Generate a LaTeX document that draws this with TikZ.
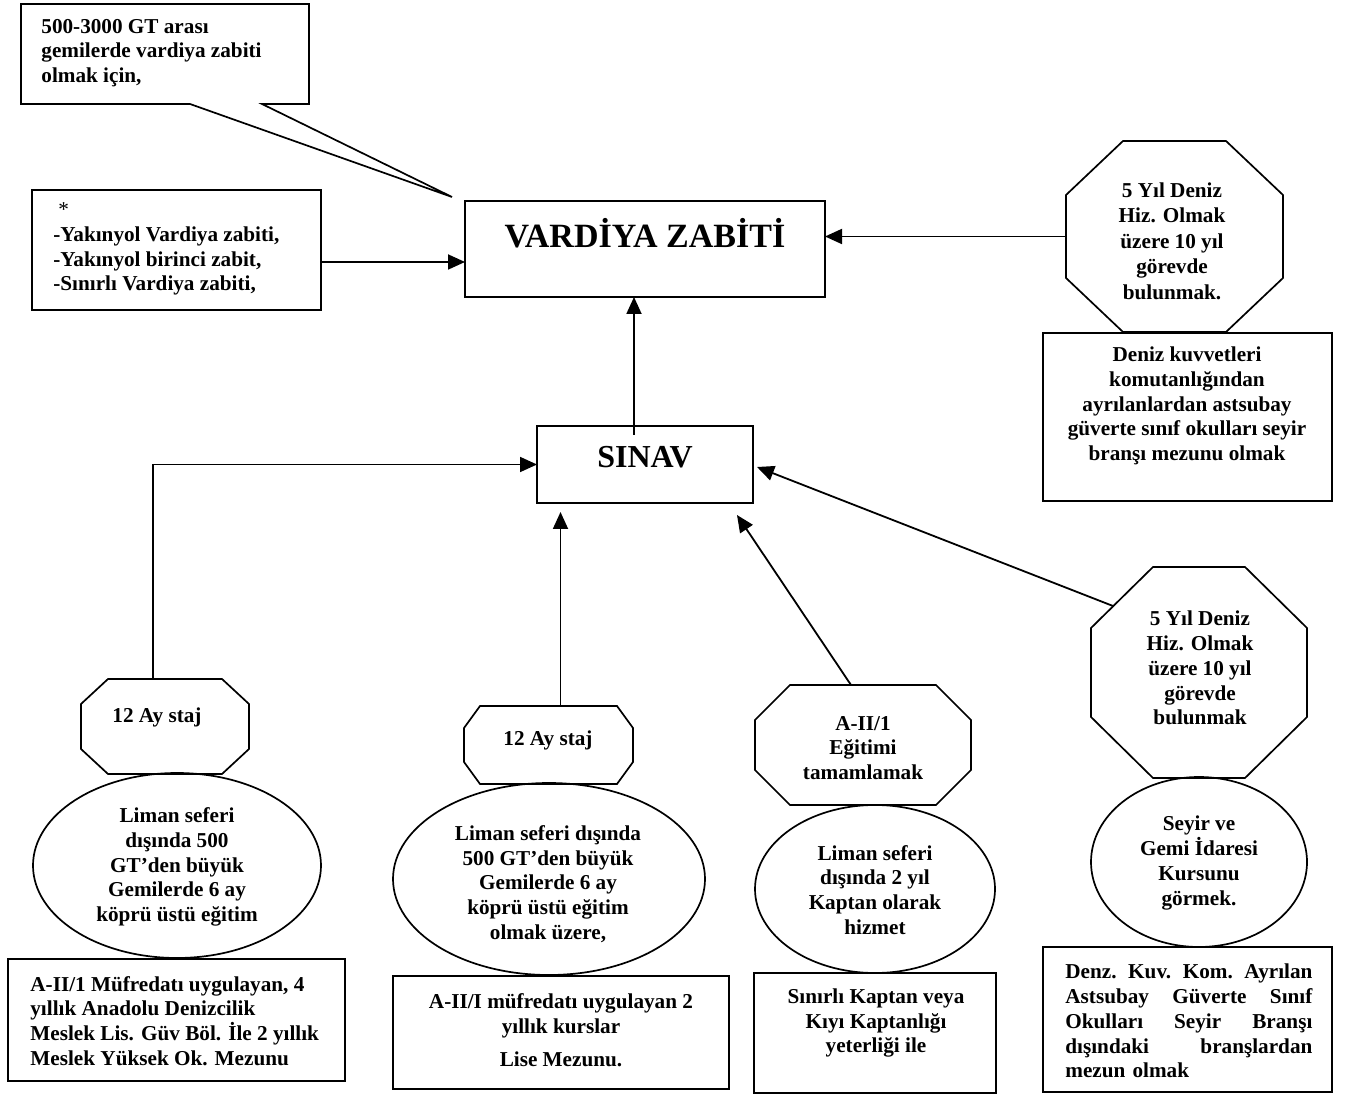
\documentclass[tikz,border=0pt]{standalone}
\usepackage{fontspec}
\setmainfont{Liberation Serif}
\usetikzlibrary{arrows.meta,calc,shapes.geometric}
\newcommand{\octshape}[7]{%
  \node[hidden, minimum width=#4pt, minimum height=#5pt] (#1) at (#2,#3) {};
  \draw[edge] ($(#1.north west)+(#6,0)$) -- ($(#1.north east)+(-#6,0)$) -- ($(#1.north east)+(0,#7)$) -- ($(#1.south east)+(0,-#7)$) -- ($(#1.south east)+(-#6,0)$) -- ($(#1.south west)+(#6,0)$) -- ($(#1.south west)+(0,-#7)$) -- ($(#1.north west)+(0,#7)$) -- cycle;
}
\begin{document}
\begin{tikzpicture}[x=0.5pt,y=-0.5pt,
  edge/.style={line width=0.85pt, line join=miter},
  boxshape/.style={draw, line width=0.85pt, rectangle, inner sep=0pt, outer sep=0pt},
  hidden/.style={rectangle, inner sep=0pt, outer sep=0pt},
  ell/.style={draw, line width=0.85pt, ellipse, inner sep=0pt, outer sep=0pt},
  txt/.style={font=\fontsize{10.6}{12.4}\selectfont\bfseries, align=center, inner sep=0pt},
  arr/.style={line width=0.9pt, -{Triangle[width=7.5pt,length=8.5pt]}}]
\fill[white] (0,0) rectangle (1348,1095);
\useasboundingbox (0,0) rectangle (1348,1095);

% callout
\node[hidden, minimum width=144pt, minimum height=50pt] (note) at (165,54) {};
\coordinate (tip) at (452,197);
\draw[edge] ($(note.south west)+(169,0)$) -- (note.south west) -- (note.north west) -- (note.north east) -- (note.south east) -- ($(note.south west)+(241,0)$) -- (tip) -- cycle;
\node[txt, align=left, anchor=west] (notetxt) at (41,53) {500-3000 GT arası\\gemilerde vardiya zabiti\\olmak için,};

% left box
\node[boxshape, minimum width=144.5pt, minimum height=60pt] (lbox) at (176.5,250) {};
\node[txt, align=left, anchor=west] (lboxtxt) at (53,249) {{\mdseries\hspace*{2.5pt}*}\\-Yakınyol Vardiya zabiti,\\-Yakınyol birinci zabit,\\-Sınırlı Vardiya zabiti,};

% VARDIYA ZABITI
\node[boxshape, minimum width=180pt, minimum height=48pt] (vz) at (645,249) {};
\node[txt, font=\fontsize{17}{20}\selectfont\bfseries] (vztxt) at (645,233) {VARDİYA ZABİTİ};

% SINAV
\node[boxshape, minimum width=108pt, minimum height=38.5pt] (sinav) at (645,464.5) {};
\node[txt, font=\fontsize{16}{19}\selectfont\bfseries] (sinavtxt) at (645,457) {SINAV};

% top-right
\octshape{octa}{1174.5}{236.5}{108.5}{95.5}{57}{54}
\node[txt, font=\fontsize{10.6}{12.75}\selectfont\bfseries] (octatxt) at (1172,241) {5 Yıl Deniz\\Hiz. Olmak\\üzere 10 yıl\\görevde\\bulunmak.};
\node[boxshape, minimum width=144.5pt, minimum height=84pt] (boxa) at (1187.5,417) {};
\node[txt] (boxatxt) at (1187,406) {Deniz kuvvetleri\\komutanlığından\\ayrılanlardan astsubay\\güverte sınıf okulları seyir\\branşı mezunu olmak};

% left bottom column
\octshape{octb}{165}{726.5}{84}{47.5}{27}{25}
\node[txt] (octbtxt) at (157,717) {12 Ay staj};
\node[ell, minimum width=144pt, minimum height=92.5pt] (ella) at (177,865.5) {};
\node[txt] (ellatxt) at (177,867) {Liman seferi\\dışında 500\\GT’den büyük\\Gemilerde 6 ay\\köprü üstü eğitim};
\node[boxshape, minimum width=168.5pt, minimum height=61pt] (boxb) at (176.5,1020) {};
\node[txt, align=left, anchor=west] (boxbtxt) at (30,1021) {A-II/1 Müfredatı uygulayan, 4\\yıllık Anadolu Denizcilik\\Meslek Lis. Güv Böl. İle 2 yıllık\\Meslek Yüksek Ok. Mezunu};

% middle column
\octshape{octc}{548.5}{745}{84.5}{39}{16}{22}
\node[txt] (octctxt) at (548,740) {12 Ay staj};
\node[ell, minimum width=156pt, minimum height=96pt] (ellb) at (549,879) {};
\node[txt] (ellbtxt) at (548,884) {Liman seferi dışında\\500 GT’den büyük\\Gemilerde 6 ay\\köprü üstü eğitim\\olmak üzere,};
\node[boxshape, minimum width=168pt, minimum height=56.5pt] (boxc) at (561,1032.5) {};
\node[txt] (boxctxt) at (561,1030) {A-II/I müfredatı uygulayan 2\\yıllık kurslar\\[4pt]Lise Mezunu.};

% A-II/1 column
\octshape{octd}{863}{745}{108}{60}{35}{35}
\node[txt] (octdtxt) at (863,748) {A-II/1\\Eğitimi\\tamamlamak};
\node[ell, minimum width=120pt, minimum height=84pt] (ellc) at (875,889) {};
\node[txt] (ellctxt) at (875,890) {Liman seferi\\dışında 2 yıl\\Kaptan olarak\\hizmet};
\node[boxshape, minimum width=121pt, minimum height=60pt] (boxd) at (875,1033) {};
\node[txt] (boxdtxt) at (876,1023) {Sınırlı Kaptan veya\\Kıyı Kaptanlığı\\yeterliği ile};

% right column
\octshape{octe}{1199}{672.5}{108}{105.5}{62}{61}
\node[txt] (octetxt) at (1200,668) {5 Yıl Deniz\\Hiz. Olmak\\üzere 10 yıl\\görevde\\bulunmak};
\node[ell, minimum width=108pt, minimum height=85pt] (elld) at (1199,862) {};
\node[txt] (elldtxt) at (1199,863) {Seyir ve\\Gemi İdaresi\\Kursunu\\görmek.};
\node[boxshape, minimum width=144.5pt, minimum height=72.5pt] (boxe) at (1187.5,1019.5) {};
\node[txt, align=left, anchor=west, text width=123.5pt] (boxetxt) at (1065,1021) {Denz.\hfill Kuv.\hfill Kom.\hfill Ayrılan\\Astsubay\hfill Güverte\hfill Sınıf\\Okulları\hfill Seyir\hfill Branşı\\dışındaki\hfill branşlardan\\mezun olmak};

% connectors
\coordinate (lb) at ([yshift=-6pt]lbox.east);
\draw[arr] (lb) -- (lb -| vz.west);
\draw[arr] (octa.west) -- (octa.west -| vz.east);
\coordinate (sv) at ([shift={(-11,9)}]sinav.north);
\draw[arr] (sv) -- (sv |- vz.south);
\coordinate (ob) at ([xshift=-6pt]octb.north);
\draw[arr] (ob) |- (sinav.west);
\coordinate (oc) at ([xshift=6pt]octc.north);
\draw[arr, shorten >=4.5pt] (oc) -- (oc |- sinav.south);
\coordinate (od) at ([xshift=-6pt]octd.north);
\coordinate (sd) at ($(sinav.south east)+(-16,12)$);
\draw[arr] (od) -- (sd);
\coordinate (oe) at ($(octe.north west)+(22,39)$);
\coordinate (se) at ($(sinav.east)+(4,2.5)$);
\draw[arr] (oe) -- (se);
\end{tikzpicture}
\end{document}
